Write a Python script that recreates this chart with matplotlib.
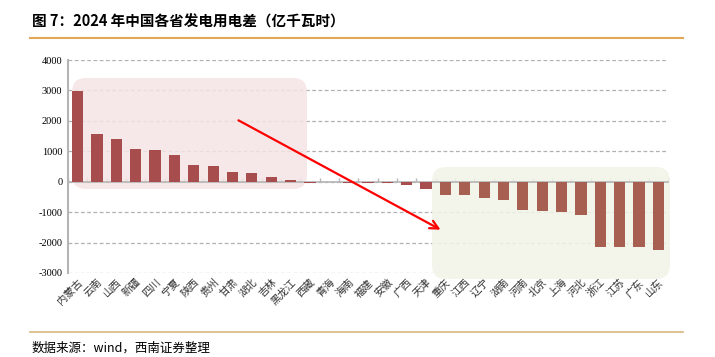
import matplotlib
matplotlib.use("Agg")
import matplotlib.pyplot as plt
import numpy as np
from matplotlib.patches import FancyBboxPatch, FancyArrowPatch
from matplotlib.transforms import IdentityTransform
from matplotlib.lines import Line2D

plt.rcParams['font.family'] = ['Noto Sans CJK SC', 'DejaVu Sans']

provinces = ["内蒙古", "云南", "山西", "新疆", "四川", "宁夏", "陕西", "贵州", "甘肃", "湖北",
             "吉林", "黑龙江", "西藏", "青海", "海南", "福建", "安徽", "广西", "天津", "重庆",
             "江西", "辽宁", "湖南", "河南", "北京", "上海", "河北", "浙江", "江苏", "广东", "山东"]
diff = [2990, 1570, 1400, 1070, 1050, 880, 560, 530, 320, 300,
        140, 60, -30, -10, -40, -50, -50, -110, -250, -450,
        -450, -525, -610, -940, -960, -980, -1100, -2130, -2160, -2160, -2260]
yticks = [-3000, -2000, -1000, 0, 1000, 2000, 3000, 4000]

W, H = 715, 357
fig = plt.figure(figsize=(W / 100, H / 100), dpi=100)
ax = fig.add_axes([68 / W, 1 - 273 / H, 600 / W, 213 / H])
ax.set_facecolor('none')

x = np.arange(len(provinces))
colors = ['#A84D4D' if i < 19 else '#A65F50' for i in range(len(provinces))]
ax.bar(x, diff, width=0.58, color=colors, zorder=5)

ax.set_xlim(-0.5, len(provinces) - 0.5)
ax.set_ylim(-3000, 4000)
ax.set_yticks(yticks)
ax.set_yticklabels([str(v) for v in yticks], family='Liberation Serif', fontsize=7.5)
ax.yaxis.grid(True, linestyle=(0, (3, 2)), color='#B0B0B0', lw=0.9)
ax.set_axisbelow(True)
ax.tick_params(axis='y', length=0, pad=4)

for s in ['top', 'right']:
    ax.spines[s].set_visible(False)
ax.spines['left'].set_color('#B5B5B5')
ax.spines['left'].set_linewidth(1.5)
ax.spines['bottom'].set_position(('data', 0))
ax.spines['bottom'].set_color('#B5B5B5')
ax.spines['bottom'].set_linewidth(1.2)
ax.spines['bottom'].set_zorder(4)
ax.set_xticks(np.arange(len(provinces) + 1) - 0.5)
ax.set_xticklabels([])
ax.tick_params(axis='x', direction='in', length=3, color='#B5B5B5', width=1)

sec = ax.secondary_xaxis(0.0)
sec.set_xticks(x)
sec.set_xticklabels(provinces, rotation=45, ha='right', va='top', fontsize=7.5,
                    rotation_mode='anchor', color='#333333')
sec.tick_params(length=0, pad=3)
sec.spines['bottom'].set_visible(False)

# highlight boxes (pixel coords)
pink = FancyBboxPatch((72, H - 189), 235, 111, boxstyle="round,pad=0,rounding_size=14",
                      transform=IdentityTransform(), facecolor='#F5E4E4', edgecolor='none',
                      alpha=0.85, zorder=1, clip_on=False)
green = FancyBboxPatch((432, H - 279), 238, 112, boxstyle="round,pad=0,rounding_size=14",
                       transform=IdentityTransform(), facecolor='#F1F4E7', edgecolor='none',
                       alpha=0.85, zorder=1, clip_on=False)
ax.add_artist(pink)
ax.add_artist(green)

arrow = FancyArrowPatch((236, H - 119), (443, H - 231), transform=IdentityTransform(),
                        arrowstyle='->,head_length=6,head_width=3', color='#FF0000',
                        lw=1.6, zorder=10, mutation_scale=1)
fig.add_artist(arrow)

# title and decorations
fig.text(32 / W, 1 - 22 / H, "图 7：2024 年中国各省发电用电差（亿千瓦时）", fontsize=10.5,
         fontweight='bold', ha='left', va='center')
fig.add_artist(Line2D([30 / W, 683 / W], [1 - 38 / H, 1 - 38 / H], color='#E3A857', lw=1.5))
fig.add_artist(Line2D([30 / W, 683 / W], [1 - 332 / H, 1 - 332 / H], color='#D8B57F', lw=1.2))
fig.text(32 / W, 1 - 348 / H, "数据来源：wind，西南证券整理", fontsize=9, style='italic',
         ha='left', va='center')

fig.savefig("out.png", dpi=100)
